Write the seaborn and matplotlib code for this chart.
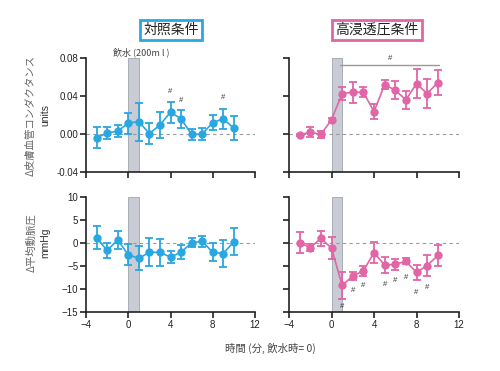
import numpy as np
import pandas as pd
import seaborn as sns
import matplotlib.pyplot as plt
from matplotlib.transforms import blended_transform_factory

sns.set_style('ticks')
plt.rcParams['font.family'] = ['Liberation Sans', 'Noto Sans CJK JP', 'DejaVu Sans']
JP = ['Noto Sans CJK JP', 'DejaVu Sans']

BLUE = '#2aa7e1'
PINK = '#e066a6'

time = [-3, -2, -1, 0, 1, 2, 3, 4, 5, 6, 7, 8, 9, 10]

# skin vascular conductance (units)
svc_ctrl = [-0.004, 0.001, 0.003, 0.0115, 0.013, 0.0005, 0.0095, 0.023, 0.016, -0.0005, 0.0, 0.012, 0.016, 0.006]
svc_ctrl_err = [0.011, 0.006, 0.006, 0.011, 0.020, 0.011, 0.014, 0.011, 0.0095, 0.006, 0.0065, 0.008, 0.0105, 0.0125]
svc_hyper = [-0.001, 0.002, -0.0005, 0.015, 0.0425, 0.044, 0.044, 0.0235, 0.052, 0.046, 0.036, 0.053, 0.0425, 0.054]
svc_hyper_err = [0.001, 0.005, 0.004, 0.002, 0.0065, 0.011, 0.005, 0.008, 0.0045, 0.0095, 0.0095, 0.015, 0.0155, 0.013]

# mean arterial pressure (mmHg)
map_ctrl = [1.1, -1.6, 0.65, -2.55, -3.35, -2.0, -2.05, -3.05, -2.0, 0.05, 0.35, -2.0, -2.3, 0.3]
map_ctrl_err = [2.5, 1.7, 1.9, 2.3, 2.6, 3.0, 2.9, 1.4, 1.5, 0.95, 1.25, 1.9, 2.9, 3.0]
map_hyper = [0.05, -1.0, 1.0, -1.1, -9.2, -7.2, -6.05, -2.1, -4.8, -4.65, -3.95, -6.4, -4.9, -2.7]
map_hyper_err = [2.3, 0.8, 1.6, 2.4, 2.9, 0.95, 1.05, 2.3, 1.75, 1.25, 0.7, 1.55, 2.35, 2.3]

# significance marks
svc_ctrl_hash_x = [4, 5, 9]
svc_ctrl_hash_y = [0.0445, 0.035, 0.038]
map_hyper_hash_x = [1, 2, 3, 5, 6, 7, 8, 9]
map_hyper_hash_y = [-13.8, -10.3, -9.3, -9.0, -8.1, -7.5, -10.7, -9.6]

fig = plt.figure(figsize=(5, 3.71), dpi=100)
W, H = 500, 371


def px_axes(x0, x1, ytop, ybot):
    return fig.add_axes([x0 / W, (H - ybot) / H, (x1 - x0) / W, (ybot - ytop) / H])


ax_tl = px_axes(86, 255, 58, 172)
ax_tr = px_axes(289, 459, 58, 172)
ax_bl = px_axes(86, 255, 197, 312)
ax_br = px_axes(289, 459, 197, 312)


def panel(ax, y, err, color, ylim, yticks, show_x, show_ylab):
    ax.axvspan(0, 1, facecolor='#c9ccd4', edgecolor='#a0a4ad', lw=0.6, zorder=1)
    ax.axhline(0, color='#9a9a9a', lw=0.8, ls=(0, (3, 3)), zorder=1)
    ax.errorbar(time, y, yerr=err, fmt='none', ecolor=color, elinewidth=1.3,
                capsize=3, capthick=1.3, zorder=3)
    df = pd.DataFrame({'t': time, 'v': y})
    sns.lineplot(data=df, x='t', y='v', ax=ax, color=color, marker='o',
                 markersize=6, markeredgewidth=0, lw=1.2, zorder=4)
    ax.set_xlim(-4, 12)
    ax.set_ylim(*ylim)
    ax.set_xticks([-4, 0, 4, 8, 12])
    ax.set_yticks(yticks)
    ax.set_xlabel('')
    ax.set_ylabel('')
    sns.despine(ax=ax)
    for s in ['left', 'bottom']:
        ax.spines[s].set_linewidth(1.2)
        ax.spines[s].set_color('#222222')
    ax.tick_params(width=1.2, length=4, labelsize=7, colors='#222222', pad=1.5)
    if not show_x:
        ax.set_xticklabels([])
    if not show_ylab:
        ax.set_yticklabels([])


panel(ax_tl, svc_ctrl, svc_ctrl_err, BLUE, (-0.04, 0.08), [-0.04, 0.0, 0.04, 0.08], False, True)
panel(ax_tr, svc_hyper, svc_hyper_err, PINK, (-0.04, 0.08), [-0.04, 0.0, 0.04, 0.08], False, False)
panel(ax_bl, map_ctrl, map_ctrl_err, BLUE, (-15, 10), [-15, -10, -5, 0, 5, 10], True, True)
panel(ax_br, map_hyper, map_hyper_err, PINK, (-15, 10), [-15, -10, -5, 0, 5, 10], True, False)
ax_tl.yaxis.set_major_formatter(plt.FormatStrFormatter('%.2f'))

for hx, hy in zip(svc_ctrl_hash_x, svc_ctrl_hash_y):
    ax_tl.text(hx, hy, '#', ha='center', va='center', fontsize=5.5, color='#333333')
for hx, hy in zip(map_hyper_hash_x, map_hyper_hash_y):
    ax_br.text(hx, hy, '#', ha='center', va='center', fontsize=5.5, color='#333333')

# bar over the hyperosmotic conductance points
ax_tr.plot([0.8, 10.1], [0.0725, 0.0725], color='#999999', lw=1.0, clip_on=False)
ax_tr.text(5.5, 0.079, '#', ha='center', va='center', fontsize=5.5, color='#333333')

# drinking label above the grey band
tr = blended_transform_factory(ax_tl.transData, ax_tl.transAxes)
ax_tl.text(1.2, 1.01, '飲水 (200m l )', transform=tr, ha='center', va='bottom',
           fontsize=6.5, color='#444444', family=JP)

# panel titles
fig.text(171 / W, 1 - 30 / H, '対照条件', ha='center', va='center', fontsize=10,
         family=JP, color='#222222',
         bbox=dict(boxstyle='square,pad=0.25', fc='white', ec=BLUE, lw=2))
fig.text(377 / W, 1 - 30 / H, '高浸透圧条件', ha='center', va='center', fontsize=10,
         family=JP, color='#222222',
         bbox=dict(boxstyle='square,pad=0.25', fc='white', ec=PINK, lw=2))

# axis labels
fig.text(31 / W, 1 - 115 / H, 'Δ皮膚血管コンダクタンス', rotation=90, ha='center', va='center',
         fontsize=7.5, color='#666666', family=JP)
fig.text(45 / W, 1 - 115 / H, 'units', rotation=90, ha='center', va='center',
         fontsize=7.5, color='#333333')
fig.text(31 / W, 1 - 243 / H, 'Δ平均動脈圧', rotation=90, ha='center', va='center',
         fontsize=7.5, color='#666666', family=JP)
fig.text(45 / W, 1 - 243 / H, 'mmHg', rotation=90, ha='center', va='center',
         fontsize=7.5, color='#333333')
fig.text(270 / W, 1 - 348 / H, '時間 (分, 飲水時= 0)', ha='center', va='center',
         fontsize=7.5, color='#444444', family=JP)

fig.savefig('out.png', dpi=100, facecolor='white')
